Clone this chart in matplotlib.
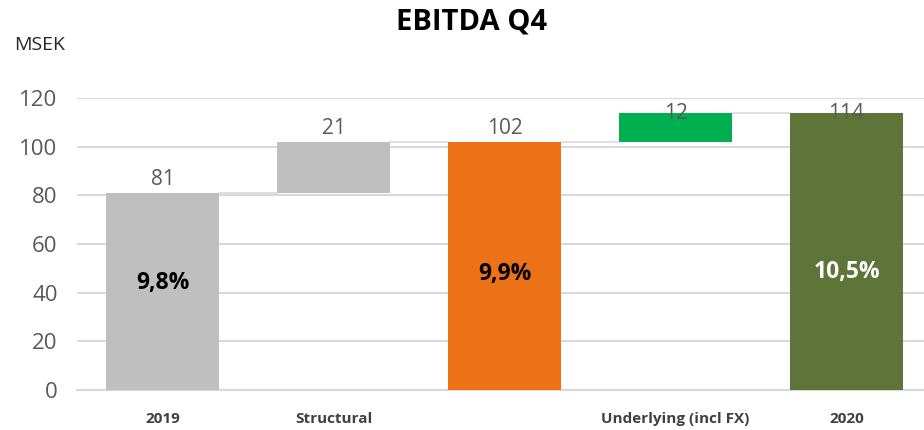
import matplotlib
matplotlib.use("Agg")
import matplotlib.pyplot as plt

categories = ["2019", "Structural", "", "Underlying (incl FX)", "2020"]
values = [81, 21, 102, 12, 114]
kinds = ["total", "delta", "total", "delta", "total"]
colors = ["#bfbfbf", "#bfbfbf", "#ed7117", "#00b050", "#5e7438"]
pct_labels = ["9,8%", "", "9,9%", "", "10,5%"]
pct_colors = ["black", "black", "black", "black", "white"]
yticks = [0, 20, 40, 60, 80, 100, 120]

plt.rcParams['font.family'] = ['Open Sans', 'DejaVu Sans']

fig = plt.figure(figsize=(9.24, 4.30), dpi=100)
ax = fig.add_axes([77/924, 40/430, 1 - 77/924, 292/430])

bottoms = []
tops = []
running = 0
for v, k in zip(values, kinds):
    if k == "total":
        b, t = 0, v
        running = v
    else:
        b, t = running, running + v
        running = t
    bottoms.append(b)
    tops.append(t)

xs = list(range(len(values)))
heights = [t - b for b, t in zip(bottoms, tops)]
ax.bar(xs, heights, bottom=bottoms, width=0.66, color=colors, zorder=3)

# connectors
for i in range(len(values) - 1):
    ax.plot([i + 0.33, i + 1 - 0.33], [tops[i], tops[i]], color="#d9d9d9", lw=1.2, zorder=2)

# value labels
for x, t, v in zip(xs, tops, values):
    ax.text(x, min(t + 5.5, 113.5), str(v), ha="center", va="center",
            fontsize=15, color="#595959", zorder=4, clip_on=False)

# percent labels
pct_y = [44, None, 47.5, None, 48.5]
for x, lab, c, py, t in zip(xs, pct_labels, pct_colors, pct_y, tops):
    if lab:
        ax.text(x, py, lab, ha="center", va="center", fontsize=16.5,
                fontweight="bold", color=c, zorder=4)

ax.set_xlim(-0.5, (924 - 162.5) / 171)
ax.set_ylim(0, 120)
ax.set_yticks(yticks)
ax.set_yticklabels([str(t) for t in yticks], fontsize=16, color="#595959")
ax.set_xticks(xs)
ax.set_xticklabels(categories, fontsize=11, fontweight="bold", color="#404040")
ax.tick_params(axis="y", length=0, pad=14)
ax.tick_params(axis="x", length=0, pad=16)
ax.grid(axis="y", color="#d9d9d9", lw=1.5, zorder=0)
for s in ["top", "right", "left"]:
    ax.spines[s].set_visible(False)
ax.spines["bottom"].set_color("#d9d9d9")
ax.spines["bottom"].set_linewidth(1.5)
ax.set_axisbelow(True)

fig.text(472/924, 1 - 22/430, "EBITDA Q4", ha="center", va="center",
         fontsize=21, fontweight="bold", color="black")
fig.text(14/924, 1 - 45/430, "MSEK", ha="left", va="center",
         fontsize=14, color="#262626")

fig.savefig("out.png", dpi=100)
